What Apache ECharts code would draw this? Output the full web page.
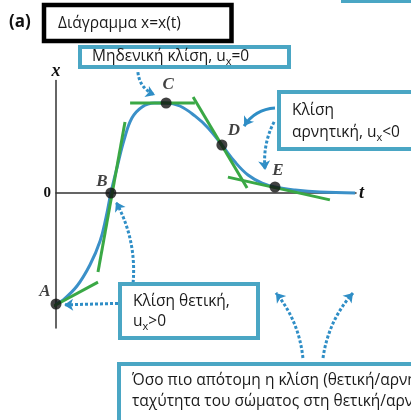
<!DOCTYPE html>
<html>
<head>
<meta charset="utf-8">
<script src="https://cdn.jsdelivr.net/npm/echarts@6/dist/echarts.min.js"></script>
<style>
  html, body { margin: 0; background: #fff; }
  #chart { width: 411px; height: 420px; }
</style>
</head>
<body>
<div id="chart"></div>
<script>
// position-time curve x(t), arbitrary units
const curveT = [0, 0.23, 0.7, 1.13, 1.47, 1.67, 1.83, 2.03, 2.27, 2.53, 2.87, 3.27, 3.67, 4.13, 4.63, 5.07, 5.53, 5.97, 6.4, 6.87, 7.3, 7.97, 8.8, 9.97];
const curveX = [-3.7, -3.57, -3.1, -2.4, -1.6, -0.8, 0, 0.83, 1.77, 2.5, 2.87, 3.0, 3.0, 2.9, 2.57, 2.17, 1.6, 1.03, 0.6, 0.33, 0.2, 0.1, 0.03, 0];

const pointNames = ["A", "B", "C", "D", "E"];
const pointT = [0, 1.83, 3.67, 5.53, 7.3];
const pointX = [-3.7, 0, 3.0, 1.6, 0.2];

// tangent segments at A..E
const tangentStartT = [-1.43, 1.4, 2.47, 4.57, 5.73];
const tangentStartX = [-4.5, -2.63, 3.0, 3.2, 0.53];
const tangentEndT = [1.4, 2.3, 4.63, 6.37, 9.13];
const tangentEndX = [-2.97, 2.37, 3.0, 0.17, -0.23];

// pointer arrows from the notes
const arrowFromT = [2.73, 7.3, 7.27, 2.4, 2.57, 8.23, 8.9];
const arrowFromX = [4.03, 2.83, 2.37, -3.67, -3.0, -5.5, -5.5];
const arrowToT = [3.3, 6.27, 6.97, 0.27, 2.0, 7.33, 9.9];
const arrowToX = [3.27, 2.23, 0.77, -3.73, -0.3, -3.33, -3.33];
const arrowBend = [-0.3, -0.25, -0.15, 0, -0.15, -0.15, 0.15];
const arrowSolid = [false, true, false, false, false, false, false];

const labelOffsets = [[-11, -12], [-9, -11], [2, -18], [12, -14], [3, -16]];

const BOX = "#4aa6c4";
const ARROW = "#2f8ec6";
const CURVE = "#3b90c8";
const GREEN = "#3aa845";
const SANS = "'Open Sans', 'Noto Sans', sans-serif";
const SERIF = "'Liberation Serif', 'DejaVu Serif', serif";
const FS = 15.5;

const chart = echarts.init(document.getElementById("chart"));

function box(x, y, w, h, color, width) {
  return {
    type: "rect",
    shape: { x: x, y: y, width: w, height: h },
    style: { fill: "#fff", stroke: color, lineWidth: width },
    z: 10,
  };
}

function note(x, y, text) {
  return {
    type: "text",
    x: x,
    y: y,
    style: {
      text: text,
      font: FS + "px " + SANS,
      fill: "#1a1a1a",
      verticalAlign: "middle",
      rich: {
        n: { fontSize: FS, fontFamily: SANS, fill: "#1a1a1a" },
        s: { fontSize: 11, fontFamily: SANS, fill: "#1a1a1a", padding: [10, 0, 0, 0] },
      },
    },
    z: 11,
  };
}

const tangentData = pointNames.map((name, i) => [
  [tangentStartT[i], tangentStartX[i]],
  [tangentEndT[i], tangentEndX[i]],
]);

chart.setOption({
  animation: false,
  grid: { left: 56, top: 80.5, width: 300, height: 247.5 },
  xAxis: {
    type: "value",
    min: 0,
    max: 10,
    name: "t",
    nameLocation: "end",
    nameGap: 3,
    nameTextStyle: { fontFamily: SERIF, fontStyle: "italic", fontWeight: "bold", fontSize: 18, color: "#111", padding: [0, 0, 2, 0] },
    axisLine: { onZero: true, lineStyle: { color: "#333", width: 1.5 } },
    axisTick: { show: false },
    axisLabel: { show: false },
    splitLine: { show: false },
  },
  yAxis: {
    type: "value",
    min: -4.5,
    max: 3.75,
    interval: 0.75,
    name: "x",
    nameLocation: "end",
    nameGap: 0,
    nameTextStyle: { fontFamily: SERIF, fontStyle: "italic", fontWeight: "bold", fontSize: 18, color: "#111", align: "center" },
    axisLine: { show: true, lineStyle: { color: "#333", width: 1.5 } },
    axisTick: { show: false },
    axisLabel: {
      formatter: (v) => (Math.abs(v) < 1e-9 ? "0" : ""),
      fontFamily: SERIF,
      fontWeight: "bold",
      fontSize: 15,
      color: "#111",
      margin: 5,
    },
    splitLine: { show: false },
  },
  series: [
    {
      type: "line",
      data: curveT.map((t, i) => [t, curveX[i]]),
      smooth: 0.4,
      symbol: "none",
      clip: false,
      lineStyle: { color: CURVE, width: 3 },
      z: 2,
    },
    ...tangentData.map((seg) => ({
      type: "line",
      data: seg,
      symbol: "none",
      clip: false,
      lineStyle: { color: GREEN, width: 3 },
      z: 3,
    })),
    {
      type: "lines",
      coordinateSystem: "cartesian2d",
      clip: false,
      symbol: ["none", "arrow"],
      symbolSize: 9,
      z: 4,
      data: arrowFromT.map((t, i) => ({
        coords: [[t, arrowFromX[i]], [arrowToT[i], arrowToX[i]]],
        lineStyle: {
          color: ARROW,
          width: 3,
          opacity: 1,
          type: arrowSolid[i] ? "solid" : [3, 2],
          curveness: arrowBend[i],
        },
      })),
    },
    {
      type: "scatter",
      data: pointT.map((t, i) => ({
        value: [t, pointX[i]],
        name: pointNames[i],
        label: { offset: labelOffsets[i] },
      })),
      symbolSize: 11,
      clip: false,
      itemStyle: { color: "#111" },
      label: {
        show: true,
        position: "inside",
        formatter: (p) => p.name,
        fontFamily: SERIF,
        fontStyle: "italic",
        fontWeight: "bold",
        fontSize: 17,
        color: "#111",
      },
      z: 5,
    },
  ],
  graphic: [
    { type: "text", x: 9, y: 22, style: { text: "(a)", font: "bold 17px " + SANS, fill: "#111", verticalAlign: "middle" }, z: 11 },
    box(44, 5, 187.5, 36, "#000", 4.5),
    note(58, 24, "Διάγραμμα x=x(t)"),
    box(80, 47, 209, 20, BOX, 4),
    note(92, 57, "{n|Μηδενική κλίση, u}{s|x}{n|=0}"),
    box(343, -40, 80, 41, BOX, 4),
    box(279, 92, 140, 57, BOX, 4),
    note(292, 111, "Κλίση"),
    note(292, 133, "{n|αρνητική, u}{s|x}{n|<0}"),
    box(120, 284, 138, 54, BOX, 4),
    note(133, 302, "Κλίση θετική,"),
    note(133, 322, "{n|u}{s|x}{n|>0}"),
    box(119, 364, 310, 80, BOX, 4),
    note(132, 381, "Όσο πιο απότομη η κλίση (θετική/αρνητική)"),
    note(132, 402, "ταχύτητα του σώματος στη θετική/αρνητική"),
  ],
});
</script>
</body>
</html>
